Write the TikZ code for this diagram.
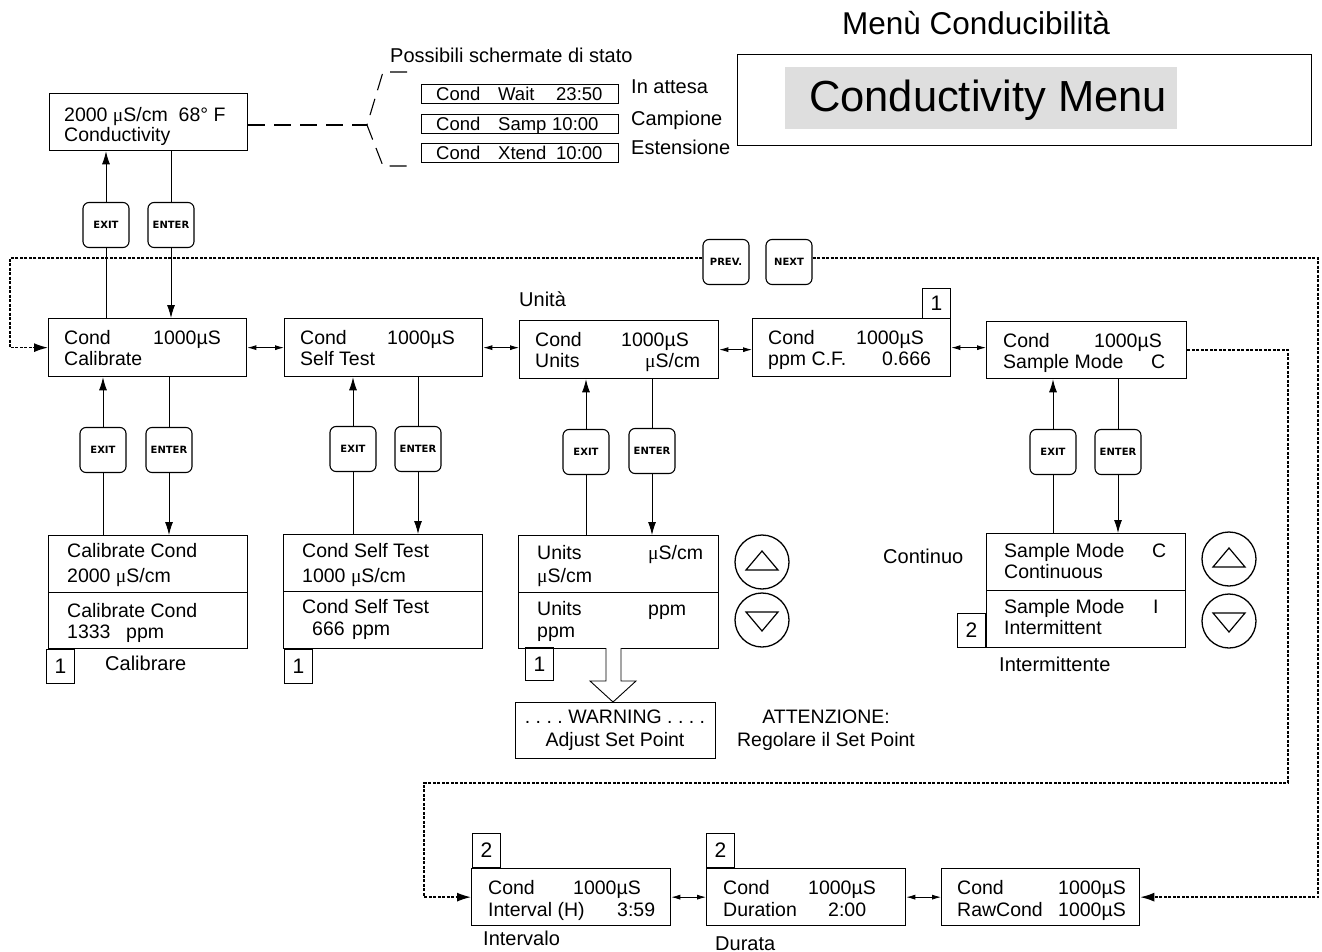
\documentclass[tikz,border=0pt]{standalone}
\usepackage{fontspec}
\setmainfont{Liberation Sans}
\newfontfamily\serifmu{Liberation Serif}
\newfontfamily\keyfont{DejaVu Sans}
\usetikzlibrary{arrows.meta,backgrounds}
\newcommand\mus{{\serifmu μ}}
\newcommand\cc[3]{\makebox[#1pt][l]{#2}#3}
\newcommand\lcd[5]{\node[lcdbox, anchor=north west, minimum width=#4pt, minimum height=#5pt] (#1) at (#2,#3) {};}
\newcommand\ltx[5][21]{\node[txt, anchor=base west] (#2) at (#3,#4) {\fontsize{19.5}{#1}\selectfont\begin{tabular}[t]{@{}l@{}}#5\end{tabular}};}
\tikzset{
  lcdbox/.style={draw, line width=1.3pt, rectangle, inner sep=0pt, fill=white},
  txt/.style={inner sep=0pt, font=\fontsize{19.5}{21}\selectfont},
  sttxt/.style={inner sep=0pt, anchor=base west, font=\fontsize{18.5}{20}\selectfont},
  lbl/.style={inner sep=0pt, anchor=base west, font=\fontsize{20}{22}\selectfont},
  btn/.style={draw, line width=1.1pt, rounded corners=6pt, minimum width=46pt, minimum height=45pt, fill=white, inner sep=0pt, font=\keyfont\bfseries\fontsize{10}{10}\selectfont},
  numbox/.style={draw, line width=0.7pt, anchor=north west, minimum width=28pt, minimum height=34pt, inner sep=0pt, font=\fontsize{21}{21}\selectfont},
  stbox/.style={draw, line width=1pt, anchor=north west, minimum width=197pt, minimum height=19pt, inner sep=0pt},
  upar/.style={line width=0.9pt, -{Latex[length=13pt,width=8pt]}},
  dbl/.style={line width=0.8pt, {Latex[length=9pt,width=5pt]}-{Latex[length=9pt,width=5pt]}},
  loopline/.style={line width=1.4pt, dash pattern=on 3pt off 1.5pt, -{Latex[length=14pt,width=9pt]}},
  stdash/.style={line width=1.1pt, dash pattern=on 17pt off 9pt},
  keyc/.style={circle, draw, line width=1.3pt, minimum size=54pt, inner sep=0pt},
  tri/.style={line width=1.2pt}
}
\begin{document}
\begin{tikzpicture}[x=1pt,y=-1pt]
\useasboundingbox (0,0) rectangle (1322,952);

% ---------- title & menu box
\node[inner sep=0pt, anchor=base, font=\fontsize{31.5}{32}\selectfont] (title) at (976,35) {Menù Conducibilità};
\node[draw, line width=1.1pt, anchor=north west, minimum width=574pt, minimum height=91pt, inner sep=0pt] (big) at (737,54) {};
\node[fill=black!13, anchor=north west, minimum width=392pt, minimum height=62pt, inner sep=0pt] (menu) at (785,67) {};
\node[inner sep=0pt, anchor=base, font=\fontsize{43.5}{44}\selectfont] (menut) at (988,112) {Conductivity Menu};

% ---------- status screen
\lcd{status}{49}{93}{198}{57}
\ltx[18]{statust}{64}{122}{2000 \mus S/cm\ \ 68° F\\Conductivity}
\node[lbl] (poss) at (390,63) {Possibili schermate di stato};
\node[stbox] (w1) at (421,84) {};
\node[stbox] (w2) at (421,114) {};
\node[stbox] (w3) at (421,143) {};
\node[sttxt] (w1t) at (436,101) {\cc{62}{Cond}{\cc{58}{Wait}{23:50}}};
\node[sttxt] (w2t) at (436,131) {\cc{62}{Cond}{\cc{54}{Samp}{10:00}}};
\node[sttxt] (w3t) at (436,160) {\cc{62}{Cond}{\cc{58}{Xtend}{10:00}}};
\node[lbl] (la1) at (631,94) {In attesa};
\node[lbl] (la2) at (631,126) {Campione};
\node[lbl] (la3) at (631,155) {Estensione};
\coordinate (bk) at (367,125);
\coordinate (bk1) at (407,72);
\coordinate (bk2) at (383,72);
\coordinate (bk3) at (383,166);
\coordinate (bk4) at (407,166);
\draw[stdash] (status.east |- bk) -- (bk);
\draw[stdash] (bk1) -- (bk2) -- (bk) -- (bk3) -- (bk4);

% ---------- row 1
\lcd{cal}{48}{318}{198}{58}
\lcd{self}{284}{318}{198}{58}
\lcd{units}{519}{320}{199}{58}
\lcd{ppm}{752}{318}{198}{58}
\lcd{samp}{986}{321}{200}{57}
\ltx{calt}{64}{344}{\cc{89}{Cond}{1000µS}\\Calibrate}
\ltx{selft}{300}{344}{\cc{87}{Cond}{1000µS}\\Self Test}
\ltx{unitst}{535}{346}{\cc{86}{Cond}{1000µS}\\\cc{110}{Units}{\mus S/cm}}
\ltx{ppmt}{768}{344}{\cc{88}{Cond}{1000µS}\\\cc{114}{ppm C.F.}{0.666}}
\ltx{sampt}{1003}{347}{\cc{91}{Cond}{1000µS}\\\cc{148}{Sample Mode}{C}}
\node[lbl] (unita) at (519,306) {Unità};
\node[numbox, minimum height=30pt] (n1a) at (922,288) {1};

% ---------- row 2
\lcd{callowA}{48}{535}{199}{57}
\lcd{callowB}{48}{592}{199}{56}
\ltx[25]{callowAt}{67}{557}{Calibrate Cond\\2000 \mus S/cm}
\ltx{callowBt}{67}{617}{Calibrate Cond\\\cc{59}{1333}{ppm}}
\lcd{selflowA}{283}{534}{199}{57}
\lcd{selflowB}{283}{591}{199}{57}
\ltx[25]{selflowAt}{302}{557}{Cond Self Test\\1000 \mus S/cm}
\ltx[22]{selflowBt}{302}{613}{Cond Self Test\\\cc{50}{\hspace*{10pt}666}{ppm}}
\lcd{unitslowA}{518}{535}{200}{57}
\lcd{unitslowB}{518}{592}{200}{56}
\ltx[23]{unitslowAt}{537}{559}{\cc{111}{Units}{\mus S/cm}\\\mus S/cm}
\ltx[22]{unitslowBt}{537}{615}{\cc{111}{Units}{ppm}\\ppm}
\lcd{samplowA}{986}{533}{199}{57}
\lcd{samplowB}{986}{590}{199}{57}
\ltx{samplowAt}{1004}{557}{\cc{148}{Sample Mode}{C}\\Continuous}
\ltx{samplowBt}{1004}{613}{\cc{149}{Sample Mode}{I}\\Intermittent}

\node[numbox] (n1b) at (46,649) {1};
\node[numbox] (n1c) at (284,649) {1};
\node[numbox, minimum height=33pt] (n1d) at (525,647) {1};
\node[numbox] (n2a) at (957,613) {2};
\node[lbl] (calib) at (105,670) {Calibrare};
\node[lbl] (cont) at (883,563) {Continuo};
\node[lbl] (interm) at (999,671) {Intermittente};

% up / down keys
\node[keyc] (up1) at (762,562) {};
\node[keyc] (dn1) at (762,620) {};
\node[keyc] (up2) at (1229,559) {};
\node[keyc] (dn2) at (1229,621) {};
\foreach \k in {up1,up2} \draw[tri] (\k) ++(-16,8) -- ++(16,-19) -- ++(16,19) -- cycle;
\foreach \k in {dn1,dn2} \draw[tri] (\k) ++(-16,-8) -- ++(16,19) -- ++(16,-19) -- cycle;

% warning
\lcd{warn}{515}{702}{200}{56}
\node[txt, anchor=base] (warnt) at (615,723) {\fontsize{19.5}{23}\selectfont\begin{tabular}[t]{@{}c@{}}.\ .\ .\ .\ WARNING .\ .\ .\ .\\Adjust Set Point\end{tabular}};
\node[txt, anchor=base] (att) at (826,723) {\fontsize{19.5}{23}\selectfont\begin{tabular}[t]{@{}c@{}}ATTENZIONE:\\Regolare il Set Point\end{tabular}};
\draw[line width=0.9pt, fill=white] (606,648) -- (606,681) -- (590,681) -- (613,702) -- (636,681) -- (621,681) -- (621,648);

% ---------- bottom row
\lcd{interval}{471}{868}{199}{57}
\lcd{duration}{706}{868}{199}{57}
\lcd{raw}{941}{868}{198}{57}
\ltx[22]{intervalt}{488}{894}{\cc{85}{Cond}{1000µS}\\\cc{129}{Interval (H)}{3:59}}
\ltx[22]{durationt}{723}{894}{\cc{85}{Cond}{1000µS}\\\cc{105}{Duration}{2:00}}
\ltx[22]{rawt}{957}{894}{\cc{101}{Cond}{1000µS}\\\cc{101}{RawCond}{1000µS}}
\node[numbox] (n2b) at (472,833) {2};
\node[numbox] (n2c) at (706,833) {2};
\node[lbl] (intl) at (483,945) {Intervalo};
\node[lbl] (durl) at (715,950) {Durata};

% ---------- keys
\node[btn] (bx0) at (106,225) {EXIT};
\node[btn] (bn0) at (171,225) {ENTER};
\node[btn] (prev) at (726,262) {PREV.};
\node[btn] (next) at (789,262) {NEXT};
\node[btn] (bx1) at (103,450) {EXIT};
\node[btn] (bn1) at (169,450) {ENTER};
\node[btn] (bx2) at (353,449) {EXIT};
\node[btn] (bn2) at (418,449) {ENTER};
\node[btn] (bx3) at (586,452) {EXIT};
\node[btn] (bn3) at (652,451) {ENTER};
\node[btn] (bx4) at (1053,452) {EXIT};
\node[btn] (bn4) at (1118,452) {ENTER};

% ---------- connectors
\begin{scope}[on background layer]
\draw[upar] (cal.north -| bx0) -- (status.south -| bx0);
\draw[upar] (status.south -| bn0) -- (cal.north -| bn0);
\draw[upar] (callowA.north -| bx1) -- (cal.south -| bx1);
\draw[upar] (cal.south -| bn1) -- (callowA.north -| bn1);
\draw[upar] (selflowA.north -| bx2) -- (self.south -| bx2);
\draw[upar] (self.south -| bn2) -- (selflowA.north -| bn2);
\draw[upar] (unitslowA.north -| bx3) -- (units.south -| bx3);
\draw[upar] (units.south -| bn3) -- (unitslowA.north -| bn3);
\draw[upar] (samplowA.north -| bx4) -- (samp.south -| bx4);
\draw[upar] (samp.south -| bn4) -- (samplowA.north -| bn4);
\end{scope}
\draw[dbl] (cal.east) -- (cal.east -| self.west);
\draw[dbl] (self.east) -- (self.east -| units.west);
\draw[dbl] (units.east) -- (units.east -| ppm.west);
\draw[dbl] (ppm.east) -- (ppm.east -| samp.west);
\draw[dbl] (interval.east) -- (interval.east -| duration.west);
\draw[dbl] (duration.east) -- (duration.east -| raw.west);

\coordinate (tl) at (10,258);
\coordinate (tr) at (1318,258);
\coordinate (c1) at (1288,783);
\coordinate (c2) at (424,783);
\draw[loopline] (prev.west |- tl) -- (tl) |- (cal.west);
\draw[loopline] (next.east |- tr) -- (tr) |- (raw.east);
\draw[loopline] (samp.east) -| (c1) -- (c2) |- (interval.west);
\end{tikzpicture}
\end{document}
